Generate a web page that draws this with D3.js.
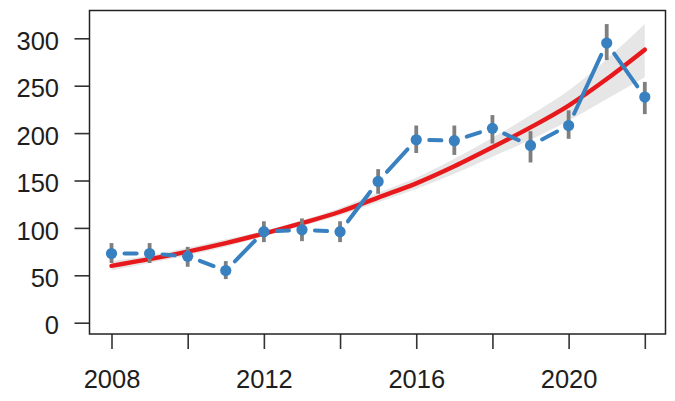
<!DOCTYPE html>
<html>
<head>
<meta charset="utf-8">
<script src="https://cdn.jsdelivr.net/npm/d3@7"></script>
<style>
  html, body { margin: 0; padding: 0; background: #fff; }
  svg { display: block; font-family: 'Liberation Sans', Arial, sans-serif; }
  .axis text { font-size: 25.5px; fill: #1e1e1e; }
  .axis line { stroke: #333; stroke-width: 1.6; }
</style>
</head>
<body>
<svg id="chart" width="675" height="401"></svg>
<script>
// Yearly counts with their intervals.
const years = [2008, 2009, 2010, 2011, 2012, 2013, 2014, 2015, 2016, 2017, 2018, 2019, 2020, 2021, 2022];
const counts = [73, 73, 70, 55, 96, 98, 96, 149, 193, 192, 205, 187, 208, 295, 238];
const countLo = [63, 63, 59, 46, 85, 86, 85, 136, 179, 177, 189, 169, 194, 277, 220];
const countHi = [84, 84, 80, 65, 107, 110, 107, 162, 208, 208, 219, 202, 224, 315, 254];

// Fitted trend and its confidence band.
const fitted = [60, 67, 75, 84, 94, 105, 117, 132, 147, 165, 185, 206, 229, 257, 288];
const fitLo = [55, 63, 71, 80, 91, 102, 113, 127, 141, 157, 175, 193, 213, 236, 259];
const fitHi = [65, 71, 79, 88, 97, 108, 121, 137, 153, 173, 195, 219, 245, 278, 315];

const yTicks = [0, 50, 100, 150, 200, 250, 300];
const xTicks = [2008, 2010, 2012, 2014, 2016, 2018, 2020, 2022];
const xLabels = [2008, 2012, 2016, 2020];

const BLUE = '#3880c0';
const RED = '#e8191c';

(() => {
  const chart = d3.select('#chart');
  const box = {left: 89.5, right: 665.5, top: 10.5, bottom: 334};

  const x = d3.scaleLinear().domain([2008, 2022]).range([111.5, 644.8]);
  const y = d3.scaleLinear().domain([0, 300]).range([322.7, 38.3]);

  // confidence band + fitted curve
  const band = d3.area()
    .x((d, i) => x(years[i]))
    .y0((d, i) => y(fitLo[i]))
    .y1((d, i) => y(fitHi[i]))
    .curve(d3.curveMonotoneX);
  chart.append('path').attr('d', band(years)).attr('fill', '#e6e6e6');

  const trend = d3.line()
    .x((d, i) => x(years[i]))
    .y(d => y(d))
    .curve(d3.curveMonotoneX);
  chart.append('path')
    .attr('d', trend(fitted))
    .attr('fill', 'none')
    .attr('stroke', RED)
    .attr('stroke-width', 4.4)
    .attr('stroke-linecap', 'round');

  // observed series: segments stop short of each point (like type = "b")
  const gap = 13;
  const pts = years.map((yr, i) => [x(yr), y(counts[i])]);
  const segs = d3.pairs(pts).map(([a, b]) => {
    const dx = b[0] - a[0], dy = b[1] - a[1];
    const len = Math.hypot(dx, dy);
    const ux = dx / len, uy = dy / len;
    return [a[0] + ux * gap, a[1] + uy * gap, b[0] - ux * gap, b[1] - uy * gap, len];
  }).filter(s => s[4] > 2 * gap);

  chart.append('g').selectAll('line').data(segs).join('line')
    .attr('x1', d => d[0]).attr('y1', d => d[1])
    .attr('x2', d => d[2]).attr('y2', d => d[3])
    .attr('stroke', BLUE)
    .attr('stroke-width', 4)
    .attr('stroke-linecap', 'round');

  chart.append('g').selectAll('line').data(years).join('line')
    .attr('x1', d => x(d)).attr('x2', d => x(d))
    .attr('y1', (d, i) => y(countLo[i]))
    .attr('y2', (d, i) => y(countHi[i]))
    .attr('stroke', '#7f7f7f')
    .attr('stroke-width', 3.8);

  chart.append('g').selectAll('circle').data(years).join('circle')
    .attr('cx', d => x(d))
    .attr('cy', (d, i) => y(counts[i]))
    .attr('r', 5.6)
    .attr('fill', BLUE);

  // axes
  const yAxis = d3.axisLeft(y).tickValues(yTicks).tickSize(15).tickPadding(15.5);
  const gy = chart.append('g')
    .attr('class', 'axis')
    .attr('transform', `translate(${box.left},0)`)
    .call(yAxis);
  gy.select('.domain').remove();
  gy.selectAll('text').attr('dy', '0.44em');

  const xAxis = d3.axisBottom(x).tickValues(xTicks).tickSize(15).tickPadding(21)
    .tickFormat(d => xLabels.includes(d) ? String(d) : '');
  const gx = chart.append('g')
    .attr('class', 'axis')
    .attr('transform', `translate(0,${box.bottom})`)
    .call(xAxis);
  gx.select('.domain').remove();

  chart.append('rect')
    .attr('x', box.left).attr('y', box.top)
    .attr('width', box.right - box.left)
    .attr('height', box.bottom - box.top)
    .attr('fill', 'none')
    .attr('stroke', '#222')
    .attr('stroke-width', 1.5);
})();
</script>
</body>
</html>
